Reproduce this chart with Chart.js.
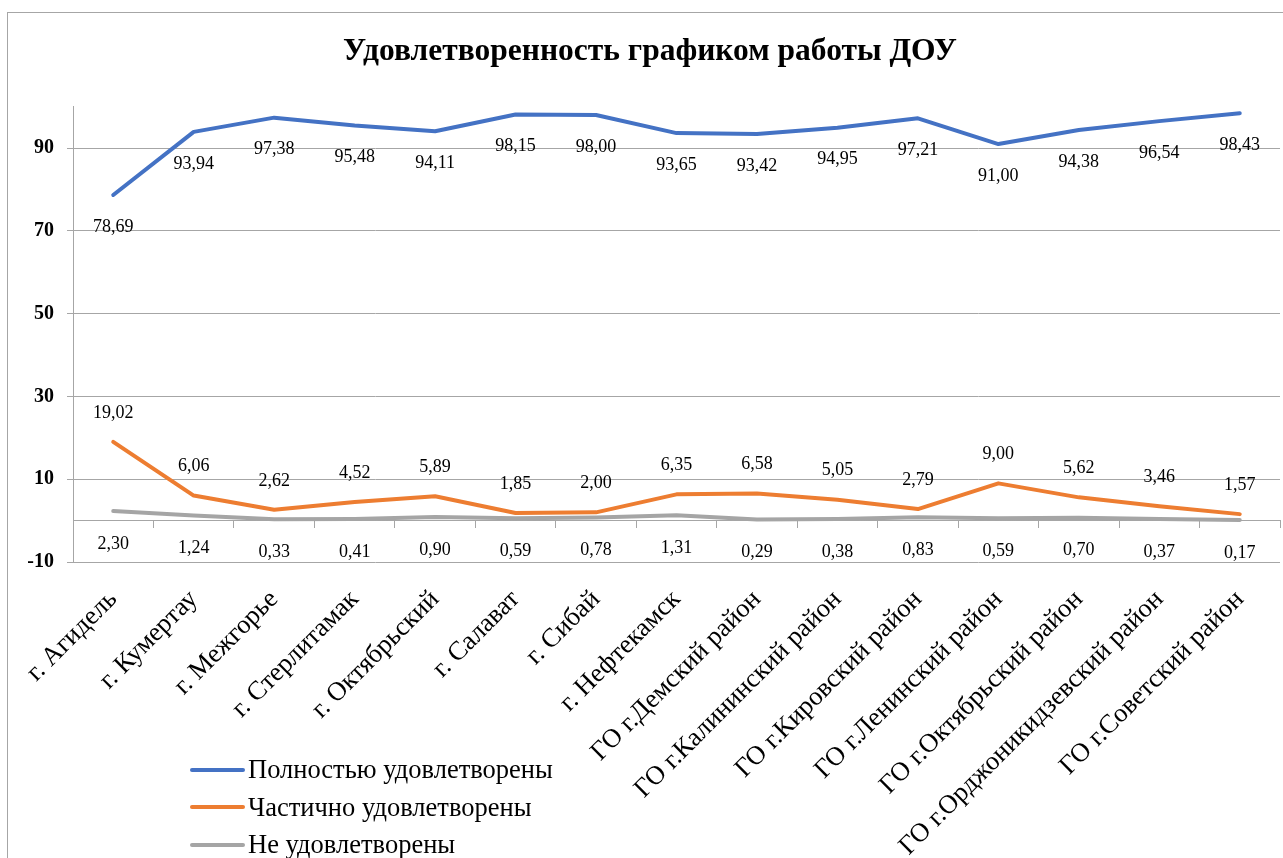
<!DOCTYPE html>
<html>
<head>
<meta charset="utf-8">
<script src="https://cdn.jsdelivr.net/npm/chart.js@4.4.1/dist/chart.umd.min.js"></script>
<style>
  html, body { margin: 0; padding: 0; background: #fff; overflow: hidden; width: 1283px; height: 858px; }
  #frame { position: absolute; left: 7px; top: 12px; width: 1400px; height: 1000px; border: 1px solid #a6a6a6; box-sizing: border-box; }
  #wrap { position: absolute; left: 0; top: 0; width: 1283px; height: 858px; }
  #legend { position: absolute; left: 190px; top: 751px; font-family: "Liberation Serif", "Times New Roman", serif; font-size: 26.5px; color: #000; }
  #legend .item { display: flex; align-items: center; height: 37.5px; }
  #legend .swatch { width: 55px; height: 4px; margin-right: 3px; border-radius: 2px; }
</style>
</head>
<body>
<div id="frame"></div>
<div id="wrap"><canvas id="c" width="1283" height="858"></canvas></div>
<div id="legend"></div>
<script>
const categories = [
  "г. Агидель", "г. Кумертау", "г. Межгорье", "г. Стерлитамак", "г. Октябрьский",
  "г. Салават", "г. Сибай", "г. Нефтекамск", "ГО г.Демский район", "ГО г.Калининский район",
  "ГО г.Кировский район", "ГО г.Ленинский район", "ГО г.Октябрьский район",
  "ГО г.Орджоникидзевский район", "ГО г.Советский район"
];
const fullySatisfied = [78.69, 93.94, 97.38, 95.48, 94.11, 98.15, 98.00, 93.65, 93.42, 94.95, 97.21, 91.00, 94.38, 96.54, 98.43];
const partlySatisfied = [19.02, 6.06, 2.62, 4.52, 5.89, 1.85, 2.00, 6.35, 6.58, 5.05, 2.79, 9.00, 5.62, 3.46, 1.57];
const notSatisfied = [2.30, 1.24, 0.33, 0.41, 0.90, 0.59, 0.78, 1.31, 0.29, 0.38, 0.83, 0.59, 0.70, 0.37, 0.17];
const seriesNames = ["Полностью удовлетворены", "Частично удовлетворены", "Не удовлетворены"];
const yTickValues = [-10, 10, 30, 50, 70, 90];
const chartTitle = "Удовлетворенность графиком работы ДОУ";

const SERIF = '"Liberation Serif", "Times New Roman", serif';
const GRID = '#a6a6a6';
const colors = ['#4472C4', '#ED7D31', '#A5A5A5'];
const labelOffsets = [32, -29, 33];

const fmt = v => v.toFixed(2).replace('.', ',');

const dataLabelPlugin = {
  id: 'dataLabels',
  afterDatasetsDraw(chart) {
    const ctx = chart.ctx;
    ctx.save();
    ctx.font = '18px ' + SERIF;
    ctx.fillStyle = '#000';
    ctx.textAlign = 'center';
    ctx.textBaseline = 'middle';
    chart.data.datasets.forEach((ds, i) => {
      const meta = chart.getDatasetMeta(i);
      meta.data.forEach((pt, j) => {
        ctx.fillText(fmt(ds.data[j]), pt.x, pt.y + labelOffsets[i]);
      });
    });
    ctx.restore();
  }
};

const chart = new Chart(document.getElementById('c'), {
  type: 'line',
  data: {
    labels: categories,
    datasets: [fullySatisfied, partlySatisfied, notSatisfied].map((d, i) => ({
      label: seriesNames[i],
      data: d,
      borderColor: colors[i],
      backgroundColor: colors[i],
      borderWidth: 4,
      pointRadius: 0,
      tension: 0,
      borderCapStyle: 'round',
      borderJoinStyle: 'round'
    }))
  },
  options: {
    responsive: false,
    animation: false,
    layout: { padding: { left: 20, right: 3, top: 0, bottom: 0 } },
    plugins: {
      legend: { display: false },
      tooltip: { enabled: false },
      title: {
        display: true,
        text: chartTitle,
        color: '#000',
        font: { family: SERIF, size: 31.5, weight: 'bold' },
        padding: { top: 33, bottom: 36 }
      }
    },
    scales: {
      x: {
        type: 'category',
        position: 'bottom',
        offset: true,
        grid: { display: false },
        border: { display: false },
        ticks: {
          autoSkip: false,
          minRotation: 45,
          maxRotation: 45,
          padding: 14,
          color: '#000',
          font: { family: SERIF, size: 26.5 }
        },
        afterFit(scale) { scale.height = 858 - 562; }
      },
      x0: {
        type: 'category',
        labels: categories,
        position: { y: 0 },
        offset: true,
        grid: { drawOnChartArea: false, drawTicks: true, tickLength: 7, color: GRID, offset: true },
        border: { display: true, color: GRID, width: 1 },
        ticks: { display: false }
      },
      y: {
        min: -10,
        max: 100,
        afterBuildTicks(scale) { scale.ticks = yTickValues.map(v => ({ value: v })); },
        afterFit(scale) { scale.width = 53; },
        grid: { color: GRID, tickLength: 6, drawTicks: true },
        border: { display: true, color: GRID },
        ticks: {
          padding: 13,
          color: '#000',
          font: { family: SERIF, size: 20, weight: 'bold' },
          callback: v => String(v)
        }
      }
    }
  },
  plugins: [dataLabelPlugin]
});

const legendEl = document.getElementById('legend');
chart.data.datasets.forEach(ds => {
  const item = document.createElement('div');
  item.className = 'item';
  const sw = document.createElement('span');
  sw.className = 'swatch';
  sw.style.background = ds.borderColor;
  const tx = document.createElement('span');
  tx.textContent = ds.label;
  item.appendChild(sw);
  item.appendChild(tx);
  legendEl.appendChild(item);
});
</script>
</body>
</html>
